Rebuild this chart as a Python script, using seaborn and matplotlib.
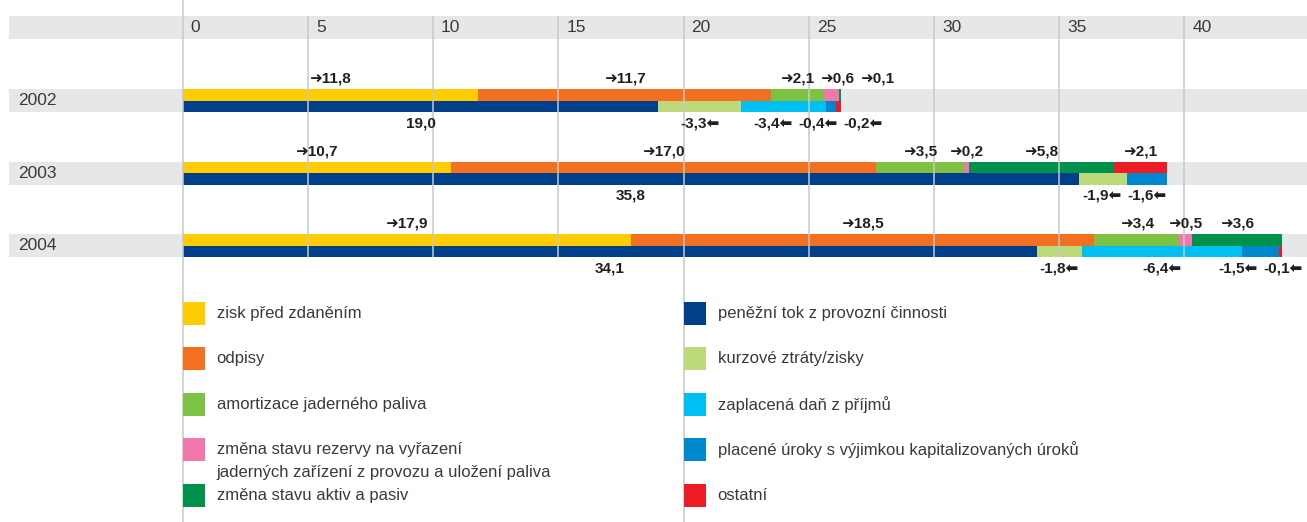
import numpy as np
import pandas as pd
import matplotlib
matplotlib.use("Agg")
import matplotlib.pyplot as plt
from matplotlib.patches import Rectangle
import seaborn as sns

# ---- data (mld. Kč) ---------------------------------------------------------
years = ["2002", "2003", "2004"]

zisk_pred_zdanenim = [11.8, 10.7, 17.9]
odpisy = [11.7, 17.0, 18.5]
amortizace_paliva = [2.1, 3.5, 3.4]
zmena_rezervy = [0.6, 0.2, 0.5]
zmena_aktiv_pasiv = [0.1, 5.8, 3.6]
kurzove_rozdily = [-3.3, -1.9, -1.8]
dan_z_prijmu = [-3.4, 0.0, -6.4]
placene_uroky = [-0.4, -1.6, -1.5]
ostatni = [-0.2, 2.1, -0.1]
penezni_tok = [19.0, 35.8, 34.1]

x_ticks = [0, 5, 10, 15, 20, 25, 30, 35, 40]

CF_NAME = "peněžní tok z provozní činnosti"
REZ_NAME = ("změna stavu rezervy na vyřazení",
            "jaderných zařízení z provozu a uložení paliva")

# flow items in stacking order: positives go to the upper bar,
# negatives are appended to the operating cash flow in the lower bar
flow_items = [
    ("zisk před zdaněním", zisk_pred_zdanenim, "#FFCC00"),
    ("odpisy", odpisy, "#F37021"),
    ("amortizace jaderného paliva", amortizace_paliva, "#7DC242"),
    (REZ_NAME[0], zmena_rezervy, "#F177AE"),
    ("změna stavu aktiv a pasiv", zmena_aktiv_pasiv, "#00924A"),
    ("kurzové ztráty/zisky", kurzove_rozdily, "#BDD979"),
    ("zaplacená daň z příjmů", dan_z_prijmu, "#00C0F3"),
    ("placené úroky s výjimkou kapitalizovaných úroků", placene_uroky, "#0088CE"),
    ("ostatní", ostatni, "#ED1C24"),
]
colors = {CF_NAME: "#003F8A"}
colors.update({n: c for n, _, c in flow_items})

legend_left = ["zisk před zdaněním", "odpisy", "amortizace jaderného paliva",
               REZ_NAME[0], "změna stavu aktiv a pasiv"]
legend_right = [CF_NAME, "kurzové ztráty/zisky", "zaplacená daň z příjmů",
                "placené úroky s výjimkou kapitalizovaných úroků", "ostatní"]

# ---- style / canvas ----------------------------------------------------------
sns.set_theme(style="white")
plt.rcParams["font.family"] = ["Liberation Sans", "DejaVu Sans"]

W, H, DPI = 1307, 522, 100
PX = 25.04          # pixels per unit on the value axis
X0 = 182.7          # pixel column of zero
BAND_H = 23.0
band_top = [89.0 + 72.5 * i for i in range(len(years))]
GRID = "#C8C8C8"
BAND = "#E6E7E8"
TXT = "#3A3A3A"
LBL = "#231F20"

fig = plt.figure(figsize=(W / DPI, H / DPI), dpi=DPI)
fig.patch.set_facecolor("white")
ax = fig.add_axes([0, 0, 1, 1])

# ---- segments ---------------------------------------------------------------
records = []
for i, yr in enumerate(years):
    top_pos = band_top[i] + BAND_H / 4
    bot_pos = band_top[i] + 3 * BAND_H / 4
    records.append(dict(year=i, row="bottom", pos=bot_pos, key=CF_NAME,
                        start=0.0, width=penezni_tok[i], value=penezni_tok[i]))
    cur_top, cur_bot = 0.0, penezni_tok[i]
    for name, vals, _ in flow_items:
        v = vals[i]
        if v > 0:
            records.append(dict(year=i, row="top", pos=top_pos, key=name,
                                start=cur_top, width=v, value=v))
            cur_top += v
        elif v < 0:
            records.append(dict(year=i, row="bottom", pos=bot_pos, key=name,
                                start=cur_bot, width=-v, value=v))
            cur_bot += -v
seg = pd.DataFrame(records)

# background bands
ax.axhspan(16, 39, xmin=9 / W, xmax=1, color=BAND, lw=0, zorder=0)
for t in band_top:
    ax.axhspan(t, t + BAND_H, xmin=9 / W, xmax=1, color=BAND, lw=0, zorder=0)

all_pos = sorted(seg["pos"].unique())
for name, color in colors.items():
    sub = seg[seg["key"] == name].set_index("pos").reindex(all_pos)
    frame = pd.DataFrame({"pos": all_pos,
                          "width": sub["width"].fillna(0).to_numpy(),
                          "left": sub["start"].fillna(0).to_numpy()})
    sns.barplot(data=frame, x="width", y="pos", orient="y", native_scale=True,
                color=color, saturation=1, width=1.0, errorbar=None,
                left=frame["left"].to_numpy(), linewidth=0, zorder=2, ax=ax)

ax.set_xlim(-X0 / PX, (W - X0) / PX)
ax.set_ylim(H, 0)
ax.axis("off")

# grid
for t in x_ticks[1:]:
    ax.vlines(t, 16, H if t == 20 else band_top[-1] + BAND_H,
              color=GRID, lw=1.1, zorder=3)
ax.vlines(0, 0, H, color=GRID, lw=1.1, zorder=3)

for t in x_ticks:
    ax.text(t + 8 / PX, 27.5, str(t), ha="left", va="center",
            fontsize=12.5, color=TXT)

# ---- value labels ------------------------------------------------------------
def fmt(v):
    return f"{abs(v):.1f}".replace(".", ",")

groups = {}
for _, r in seg.iterrows():
    if r["key"] == CF_NAME:
        s = fmt(r["value"])
    elif r["value"] > 0:
        s = "➜" + fmt(r["value"])
    else:
        s = "-" + fmt(r["value"]) + "⬅"
    if r["row"] == "top":
        yy = band_top[r["year"]] - 10.5
    else:
        yy = band_top[r["year"]] + BAND_H + 11.5
    t = ax.text(r["start"] + r["width"] / 2, yy, s, ha="center", va="center",
                fontsize=11, fontweight="bold", color=LBL, zorder=4)
    groups.setdefault((r["year"], r["row"]), []).append(t)

fig.canvas.draw()
renderer = fig.canvas.get_renderer()
gap = 6 / PX
xmax_lim = (W - 4 - X0) / PX
for (yi, row), texts in groups.items():
    texts.sort(key=lambda t: t.get_position()[0])
    xs = np.array([t.get_position()[0] for t in texts], dtype=float)
    ws = np.array([t.get_window_extent(renderer).width / PX for t in texts])
    if row == "top":
        # crowded labels above the bar are shifted to the right
        for k in range(1, len(xs)):
            xs[k] = max(xs[k], xs[k - 1] + (ws[k - 1] + ws[k]) / 2 + gap)
    else:
        # below the bar they are spread symmetrically
        for _ in range(200):
            moved = False
            for k in range(len(xs) - 1):
                ov = (xs[k] + ws[k] / 2 + gap) - (xs[k + 1] - ws[k + 1] / 2)
                if ov > 1e-6:
                    xs[k] -= ov / 2
                    xs[k + 1] += ov / 2
                    moved = True
            over = xs[-1] + ws[-1] / 2 - xmax_lim
            if over > 0:
                xs[-1] -= over
                moved = True
            if not moved:
                break
    for t, x in zip(texts, xs):
        t.set_x(x)

# ---- row labels and legend (pixel overlay) -----------------------------------
pix = fig.add_axes([0, 0, 1, 1])
pix.set_xlim(0, W)
pix.set_ylim(H, 0)
pix.axis("off")
pix.patch.set_alpha(0)

for i, yr in enumerate(years):
    pix.text(18, band_top[i] + BAND_H / 2, yr, ha="left", va="center",
             fontsize=12.5, color=TXT)

row_y = [313.3 + 45.5 * k for k in range(5)]
for col_x, names in ((X0, legend_left), (X0 + 20 * PX, legend_right)):
    for y, name in zip(row_y, names):
        pix.add_patch(Rectangle((col_x, y - 11.5), 22, 23, color=colors[name], lw=0))
        pix.text(col_x + 34, y, name, ha="left", va="center", fontsize=12, color=TXT)
        if name == REZ_NAME[0]:
            pix.text(col_x + 34, y + 23, REZ_NAME[1], ha="left", va="center",
                     fontsize=12, color=TXT)

fig.savefig("out.png", dpi=DPI, facecolor="white")
